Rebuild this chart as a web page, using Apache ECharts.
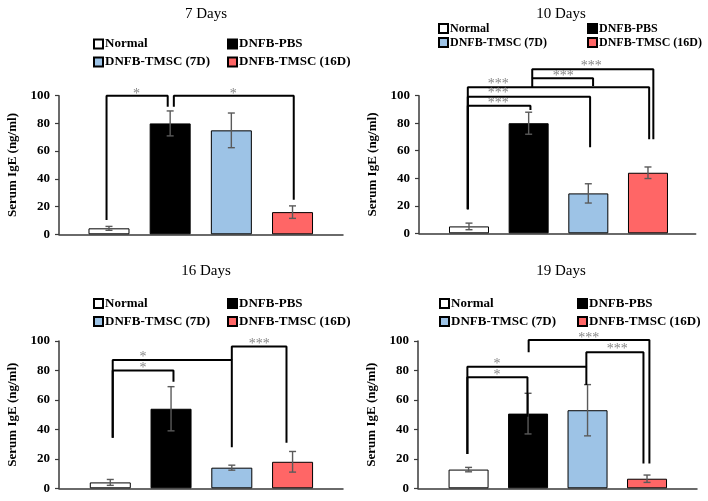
<!DOCTYPE html>
<html>
<head>
<meta charset="utf-8">
<script src="https://cdn.jsdelivr.net/npm/echarts@6/dist/echarts.min.js"></script>
<style>html,body{margin:0;padding:0;background:#fff;}#c{width:708px;height:501px;}</style>
</head>
<body>
<div id="c"></div>
<script>
// ---------- data ----------
const categories = ['Normal', 'DNFB-PBS', 'DNFB-TMSC (7D)', 'DNFB-TMSC (16D)'];
const panelTitles = ['7 Days', '10 Days', '16 Days', '19 Days'];
const yTicks = [0, 20, 40, 60, 80, 100];

const meansD7  = [4.3, 80, 75, 16];
const errD7    = [1.4, 9, 12.5, 4.5];
const meansD10 = [5, 80, 29, 44];
const errD10   = [2.4, 8, 7, 4.2];
const meansD16 = [4, 54, 14, 18];
const errD16   = [2, 15, 1.7, 7];
const meansD19 = [12.7, 50.7, 53, 6.5];
const errD19   = [1.5, 13.8, 17.4, 2.5];

// significance brackets: [xLeft, yLeftEnd, xRight, yRightEnd, yTop]
const bracketsD7 = [
  [-0.04, 10.3, 0.96, 92, 100],
  [1.06, 92, 3.02, 25, 100]
];
const bracketsD10 = [
  [-0.02, 17.4, 1.03, 89.6, 92.7],
  [-0.02, 17.4, 2.03, 62.5, 99.3],
  [-0.02, 17.4, 3.02, 68.3, 106.1],
  [1.06, 106.1, 2.08, 107, 112.6],
  [1.06, 112.6, 3.09, 68.3, 119.2]
];
const bracketsD16 = [
  [0.04, 34.4, 1.04, 72.4, 80],
  [0.04, 34.4, 2.0, 27.8, 87.1],
  [2.0, 87.1, 2.9, 31, 96.2]
];
const bracketsD19 = [
  [-0.02, 23.3, 0.99, 48.6, 75.4],
  [-0.02, 23.3, 1.98, 70.1, 82.6],
  [1.98, 82.6, 2.94, 16.9, 92.3],
  [1.01, 92.3, 3.04, 16.9, 100.7]
];
// star labels: [x, y, text]
const starsD7 = [[0.45, 102.9, '*'], [2.03, 102.9, '*']];
const starsD10 = [[0.49, 96.8, '***'], [0.49, 103.6, '***'], [0.49, 110.2, '***'], [1.58, 116.3, '***'], [2.05, 123.5, '***']];
const starsD16 = [[0.54, 83.7, '*'], [0.54, 90.7, '*'], [2.45, 100, '***']];
const starsD19 = [[0.48, 78.5, '*'], [0.48, 86.4, '*'], [2.5, 96.1, '***'], [2.02, 104, '***']];

// ---------- layout / style ----------
const FONT = "'Liberation Serif', 'Times New Roman', serif";
const barColors = ['#ffffff', '#000000', '#9dc3e6', '#ff6666'];
const panels = [
  { means: meansD7, errs: errD7, brackets: bracketsD7, stars: starsD7,
    grid: { left: 59, right: 365, top: 95.7, bottom: 266.7 }, xMin: -0.817, xMax: 3.825, barW: 41,
    title: { cx: 201, top: 2 }, legend: { cols: [93, 227], top: 37.5, gap: 5, fs: 13 } },
  { means: meansD10, errs: errD10, brackets: bracketsD10, stars: starsD10,
    grid: { left: 419, right: 12.3, top: 95.7, bottom: 267.7 }, xMin: -0.838, xMax: 3.80, barW: 40,
    title: { cx: 556, top: 2 }, legend: { cols: [438, 587], top: 22.5, gap: 2, fs: 12 } },
  { means: meansD16, errs: errD16, brackets: bracketsD16, stars: starsD16,
    grid: { left: 59, right: 365, top: 341, bottom: 12.7 }, xMin: -0.844, xMax: 3.83, barW: 41,
    title: { cx: 201, top: 259 }, legend: { cols: [93, 227], top: 297, gap: 5, fs: 13 } },
  { means: meansD19, errs: errD19, brackets: bracketsD19, stars: starsD19,
    grid: { left: 418, right: 11, top: 341, bottom: 12.7 }, xMin: -0.85, xMax: 3.84, barW: 40,
    title: { cx: 556, top: 259 }, legend: { cols: [439, 577], top: 297, gap: 5, fs: 13 } }
];

const option = {
  backgroundColor: '#ffffff',
  animation: false,
  title: [], legend: [], grid: [], xAxis: [], yAxis: [], series: []
};

panels.forEach((p, k) => {
  option.title.push({
    text: panelTitles[k], left: p.title.cx, top: p.title.top, textAlign: 'center',
    textStyle: { fontFamily: FONT, fontSize: 15, fontWeight: 'normal', color: '#000' }
  });
  [[categories[0], categories[2]], [categories[1], categories[3]]].forEach((names, c) => {
    option.legend.push({
      data: names, orient: 'vertical', left: p.legend.cols[c], top: p.legend.top,
      itemWidth: 9, itemHeight: 9, itemGap: p.legend.gap, padding: 0,
      selectedMode: false, icon: 'rect',
      textStyle: { fontFamily: FONT, fontSize: p.legend.fs, fontWeight: 'bold', color: '#000', padding: [0, 0, 0, -3] }
    });
  });
  option.grid.push(Object.assign({ containLabel: false }, p.grid));
  option.xAxis.push({
    type: 'value', gridIndex: k, min: p.xMin, max: p.xMax,
    axisLine: { show: true, onZero: false, lineStyle: { color: '#3a3a3a', width: 1.5 } },
    axisTick: { show: false }, axisLabel: { show: false }, splitLine: { show: false }
  });
  option.yAxis.push({
    type: 'value', gridIndex: k, min: yTicks[0], max: yTicks[yTicks.length - 1], interval: yTicks[1] - yTicks[0],
    name: 'Serum IgE (ng/ml)', nameLocation: 'middle', nameGap: 40, nameRotate: 90,
    nameTextStyle: { fontFamily: FONT, fontSize: 13, fontWeight: 'bold', color: '#000' },
    axisLine: { show: true, onZero: false, lineStyle: { color: '#3a3a3a', width: 1.5 } },
    axisTick: { show: true, inside: false, length: 4, lineStyle: { color: '#3a3a3a', width: 1.2 } },
    axisLabel: { fontFamily: FONT, fontSize: 13, fontWeight: 'bold', color: '#000', margin: 9 },
    splitLine: { show: false }
  });
  categories.forEach((name, i) => {
    option.series.push({
      type: 'bar', name: name, xAxisIndex: k, yAxisIndex: k,
      data: [[i, p.means[i]]], barWidth: p.barW, barGap: '-100%',
      itemStyle: { color: barColors[i], borderColor: '#000', borderWidth: 1 }
    });
  });
  option.series.push({
    type: 'custom', xAxisIndex: k, yAxisIndex: k, z: 5,
    data: p.means.map((m, i) => [i, m, p.errs[i]]),
    renderItem: function (params, api) {
      const x = api.value(0), v = api.value(1), e = api.value(2);
      const t = api.coord([x, v + e]), b = api.coord([x, v - e]);
      const w = 3.5, st = { stroke: '#5a5a5a', lineWidth: 1.4 };
      return { type: 'group', children: [
        { type: 'line', shape: { x1: t[0], y1: t[1], x2: b[0], y2: b[1] }, style: st },
        { type: 'line', shape: { x1: t[0] - w, y1: t[1], x2: t[0] + w, y2: t[1] }, style: st },
        { type: 'line', shape: { x1: b[0] - w, y1: b[1], x2: b[0] + w, y2: b[1] }, style: st }
      ] };
    }
  });
  p.brackets.forEach((br) => {
    option.series.push({
      type: 'line', xAxisIndex: k, yAxisIndex: k, clip: false, z: 6,
      symbol: 'none', silent: true,
      lineStyle: { color: '#000', width: 2 },
      data: [[br[0], br[1]], [br[0], br[4]], [br[2], br[4]], [br[2], br[3]]]
    });
  });
  option.series.push({
    type: 'scatter', xAxisIndex: k, yAxisIndex: k, clip: false, z: 7,
    symbolSize: 1, itemStyle: { color: 'rgba(0,0,0,0)' }, silent: true,
    data: p.stars,
    label: { show: true, position: 'inside', offset: [0, 3], formatter: (d) => d.value[2],
      fontFamily: FONT, fontSize: 14, color: '#666' }
  });
});

const chart = echarts.init(document.getElementById('c'), null, { renderer: 'canvas' });
chart.setOption(option);
</script>
</body>
</html>
